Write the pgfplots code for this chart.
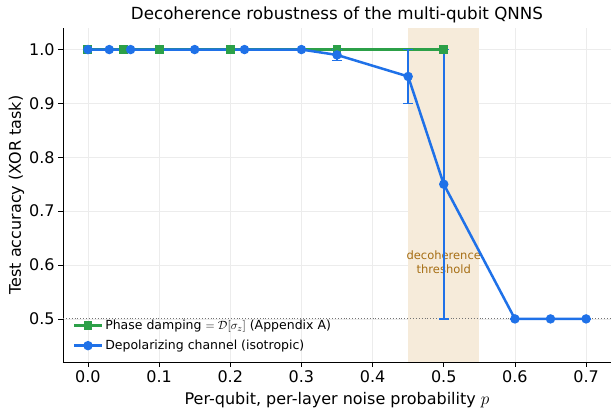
\documentclass[border=0pt]{standalone}
\usepackage{pgfplots}
\pgfplotsset{compat=1.18}
\usepackage{fontspec}
\setmainfont{DejaVu Sans}
\definecolor{cgreen}{RGB}{44,160,72}
\definecolor{cblue}{RGB}{31,113,232}
\definecolor{cband}{RGB}{246,235,218}
\definecolor{ctext}{RGB}{166,110,20}
\begin{document}
\begin{tikzpicture}
\begin{axis}[
  scale only axis,
  width=548bp, height=334bp,
  xmin=-0.035, xmax=0.735, ymin=0.42, ymax=1.04,
  axis lines*=left,
  axis line style={line width=0.8bp},
  xtick={0,0.1,...,0.7}, ytick={0.5,0.6,...,1.0},
  xticklabel style={/pgf/number format/.cd,fixed,fixed zerofill,precision=1},
  yticklabel style={/pgf/number format/.cd,fixed,fixed zerofill,precision=1},
  /pgf/number format/assume math mode=true,
  ticklabel style={font=\fontsize{16bp}{18bp}\selectfont},
  tick style={black, line width=0.8bp},
  major tick length=4.9bp,
  tick align=outside,
  grid=major,
  grid style={gray!15, line width=0.8bp},
  title={Decoherence robustness of the multi-qubit QNNS},
  title style={font=\fontsize{16.7bp}{19bp}\selectfont, at={(0.5,1)}, anchor=center, yshift=7bp},
  xlabel={Per-qubit, per-layer noise probability $p$},
  ylabel={Test accuracy (XOR task)},
  label style={font=\fontsize{16bp}{18bp}\selectfont},
  xlabel style={yshift=-3bp},
  ylabel shift=-2bp,
  legend style={draw=none, fill=none, at={(0.012,0.02)}, anchor=south west,
    font=\fontsize{12.5bp}{15bp}\selectfont, row sep=5bp},
  legend image post style={line width=2.5bp},
  legend image code/.code={\draw[#1] (0bp,0bp) -- (28bp,0bp); \draw[#1, only marks] plot coordinates {(14bp,0bp)};},
  legend cell align=left,
  clip=false,
]
\fill[cband] (axis cs:0.45,0.42) rectangle (axis cs:0.55,1.04);
\draw[black!55, dotted, line width=0.9bp] (axis cs:-0.035,0.5) -- (axis cs:0.735,0.5);
\node[text=ctext, align=center, font=\fontsize{11.5bp}{13.5bp}\selectfont] at (axis cs:0.5,0.605) {decoherence\\threshold};
\addplot[cgreen, line width=2.5bp, mark=square*, mark size=3.2bp, mark options={solid}]
  coordinates {(0,1.0) (0.05,1.0) (0.1,1.0) (0.2,1.0) (0.35,1.0) (0.5,1.0)};
\addlegendentry{Phase damping $=\mathcal{D}[\sigma_z]$ (Appendix A)}
\addplot[cblue, line width=2.5bp, mark=*, mark size=3.4bp, mark options={solid},
  error bars/.cd, y dir=both, y explicit, error bar style={line width=2.2bp}, error mark options={rotate=90, mark size=5bp, line width=1.5bp}]
  coordinates {
  (0,1.0) +- (0,0)
  (0.03,1.0) +- (0,0)
  (0.06,1.0) +- (0,0)
  (0.15,1.0) +- (0,0)
  (0.22,1.0) +- (0,0)
  (0.3,1.0) +- (0,0)
  (0.35,0.99) +- (0,0.01)
  (0.45,0.95) +- (0,0.05)
  (0.5,0.75) +- (0,0.25)
  (0.6,0.5) +- (0,0)
  (0.65,0.5) +- (0,0)
  (0.7,0.5) +- (0,0)
  };
\addlegendentry{Depolarizing channel (isotropic)}
\end{axis}
\pgfresetboundingbox
\path[use as bounding box] ([shift={(-63bp,-47bp)}]current axis.south west) rectangle ([shift={(0bp,28bp)}]current axis.north east);
\end{tikzpicture}
\end{document}
